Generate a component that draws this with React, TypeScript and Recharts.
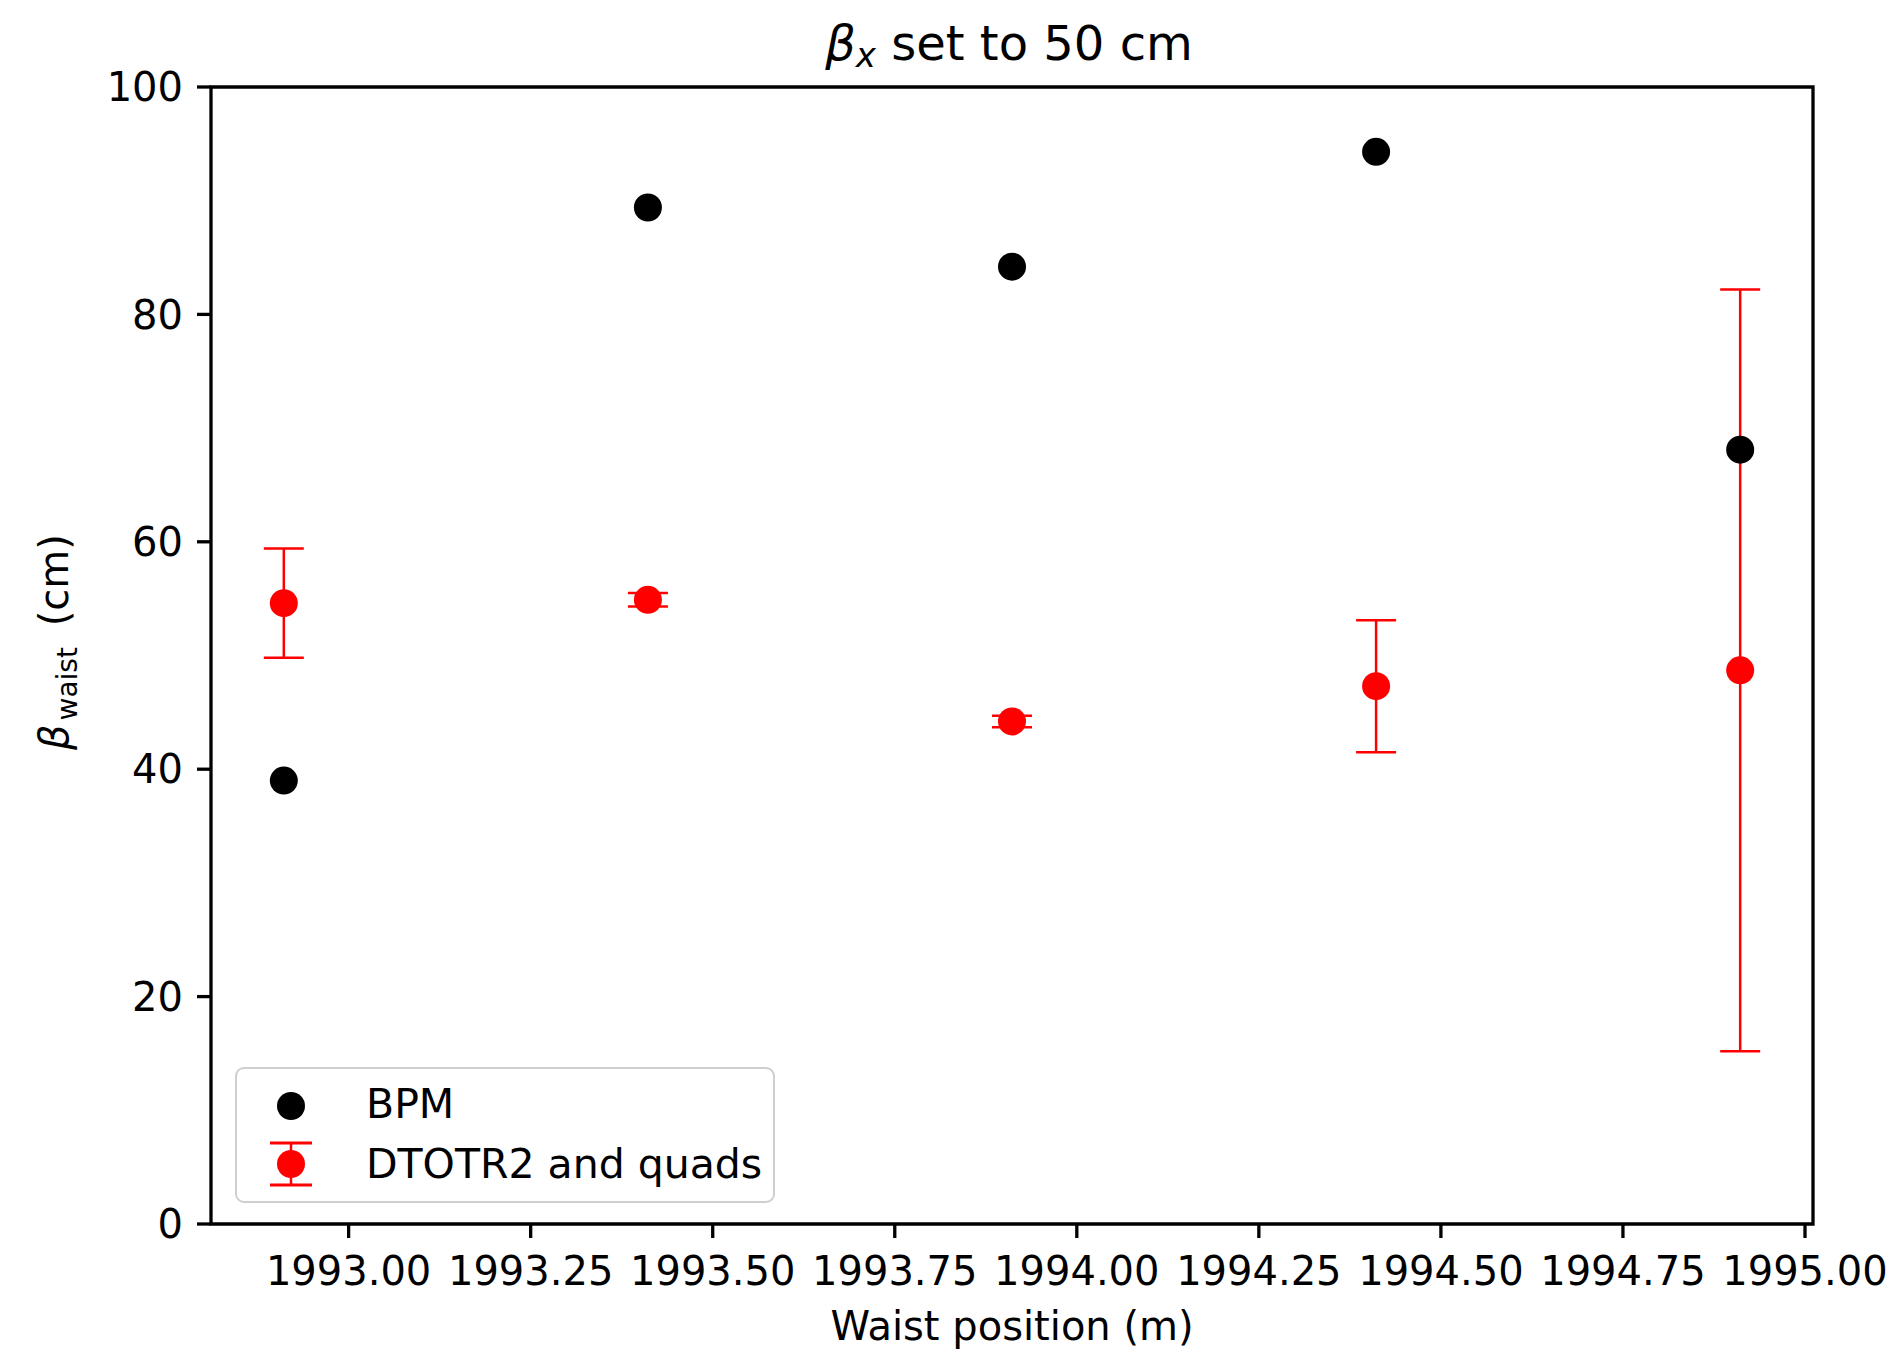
import React from 'react';
import { ScatterChart, Scatter, XAxis, YAxis, ErrorBar, ReferenceArea, Legend, Label } from 'recharts';

const positions = [1992.911, 1993.411, 1993.911, 1994.411, 1994.911];
const bpmValues = [39.0, 89.4, 84.2, 94.3, 68.1];
const dtotrValues = [54.6, 54.9, 44.2, 47.3, 48.7];
const dtotrErrors = [4.8, 0.6, 0.5, 5.8, 33.5];
const xTicks = [1993, 1993.25, 1993.5, 1993.75, 1994, 1994.25, 1994.5, 1994.75, 1995];
const yTicks = [0, 20, 40, 60, 80, 100];
const xDomain = [1992.811, 1995.011];
const yDomain = [0, 100];
const seriesNames = ['BPM', 'DTOTR2 and quads'];
const xLabelText = 'Waist position (m)';

const bpmData = positions.map((x, i) => ({ x, y: bpmValues[i] }));
const dtotrData = positions.map((x, i) => ({ x, y: dtotrValues[i], err: dtotrErrors[i] }));

const FONT = 'DejaVu Sans';

const XLabel = (props: any) => {
  const vb = props.viewBox || {};
  return (
    <text x={vb.x + vb.width / 2} y={vb.y + 116} textAnchor="middle" fontSize={40} fontFamily={FONT} fill="#000">
      {xLabelText}
    </text>
  );
};

const YLabel = (props: any) => {
  const vb = props.viewBox || {};
  const x = vb.x + 57;
  const y = 750;
  return (
    <text x={x} y={y} transform={`rotate(-90 ${x} ${y})`} textAnchor="start" fontSize={40} fontFamily={FONT} fill="#000">
      <tspan fontStyle="italic">β</tspan>
      <tspan fontSize={28} dx={4} dy={9}>waist</tspan>
      <tspan dx={8} dy={-9}>{'\u00a0(cm)'}</tspan>
    </text>
  );
};

const renderLegend = () => (
  <svg width={540} height={136} style={{ display: 'block', overflow: 'visible' }}>
    <rect x={1} y={1} width={538} height={134} rx={8} fill="#fff" fillOpacity={0.8} stroke="#cfcfcf" strokeWidth={2} />
    <circle cx={56} cy={39} r={14} fill="#000" />
    <text x={131} y={51} fontSize={41} fontFamily={FONT} fill="#000">{seriesNames[0]}</text>
    <line x1={56} y1={76} x2={56} y2={118} stroke="#ff0000" strokeWidth={2.5} />
    <line x1={35} y1={76} x2={77} y2={76} stroke="#ff0000" strokeWidth={3} />
    <line x1={35} y1={118} x2={77} y2={118} stroke="#ff0000" strokeWidth={3} />
    <circle cx={56} cy={97} r={14} fill="#ff0000" />
    <text x={131} y={111} fontSize={41} fontFamily={FONT} fill="#000">{seriesNames[1]}</text>
  </svg>
);

const blackDot = (p: any) => <circle cx={p.cx} cy={p.cy} r={14} fill="#000" />;
const redDot = (p: any) => <circle cx={p.cx} cy={p.cy} r={14} fill="#ff0000" />;

export default function App() {
  return (
    <div style={{ position: 'absolute', left: 0, top: 0, width: 1900, height: 1355, background: '#fff', fontFamily: FONT }}>
      <ScatterChart width={1900} height={1355} margin={{ top: 87, right: 87, bottom: 31, left: 11 }}>
        <XAxis
          type="number"
          dataKey="x"
          domain={xDomain}
          ticks={xTicks}
          interval={0}
          allowDataOverflow
          height={100}
          tickSize={14}
          tickMargin={19}
          axisLine={false}
          tickLine={{ stroke: '#000', strokeWidth: 3.3 }}
          tick={{ fontSize: 40, fill: '#000', fontFamily: FONT }}
          tickFormatter={(v: number) => v.toFixed(2)}
        >
          <Label content={XLabel} />
        </XAxis>
        <YAxis
          type="number"
          dataKey="y"
          domain={yDomain}
          ticks={yTicks}
          interval={0}
          allowDataOverflow
          width={200}
          tickSize={14}
          tickMargin={14}
          axisLine={false}
          tickLine={{ stroke: '#000', strokeWidth: 3.3 }}
          tick={{ fontSize: 40, fill: '#000', fontFamily: FONT }}
        >
          <Label content={YLabel} />
        </YAxis>
        <Scatter name={seriesNames[0]} data={bpmData} shape={blackDot} isAnimationActive={false} />
        <Scatter name={seriesNames[1]} data={dtotrData} shape={redDot} isAnimationActive={false}>
          <ErrorBar dataKey="err" direction="y" width={20} stroke="#ff0000" strokeWidth={2.5} isAnimationActive={false} />
        </Scatter>
        <ReferenceArea
          x1={xDomain[0]}
          x2={xDomain[1]}
          y1={yDomain[0]}
          y2={yDomain[1]}
          fill="none"
          stroke="#000"
          strokeWidth={3.3}
          ifOverflow="visible"
        />
        <Legend
          layout="horizontal"
          verticalAlign="middle"
          align="center"
          width={540}
          height={136}
          wrapperStyle={{ left: 235, top: 1067, width: 540, height: 136 }}
          content={renderLegend}
        />
      </ScatterChart>
      <svg width={1900} height={100} style={{ position: 'absolute', left: 0, top: 0, pointerEvents: 'none' }}>
        <text x={1009} y={60} textAnchor="middle" fontSize={48} fontFamily={FONT} fill="#000">
          <tspan fontStyle="italic">β</tspan>
          <tspan fontStyle="italic" fontSize={34} dy={7}>x</tspan>
          <tspan dy={-7}>{'\u00a0set to 50 cm'}</tspan>
        </text>
      </svg>
    </div>
  );
}
